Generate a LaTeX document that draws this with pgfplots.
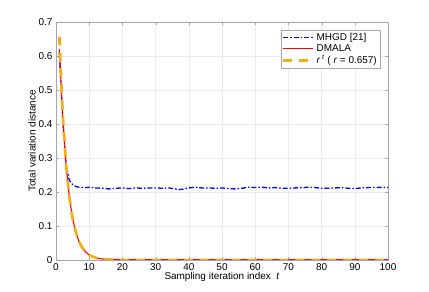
\documentclass[border=0pt]{standalone}
\usepackage{pgfplots}
\pgfplotsset{compat=1.18}
\usepackage{fontspec}
\setmainfont{Liberation Sans}
\definecolor{mblue}{RGB}{0,0,255}
\definecolor{mred}{rgb}{1,0,0}
\definecolor{myellow}{rgb}{0.929,0.694,0.125}
\begin{document}
\begin{tikzpicture}
\path[use as bounding box] (0,0) rectangle (429bp,292bp);
\begin{axis}[
  at={(56bp,32bp)}, anchor=south west,
  scale only axis, width=332bp, height=238bp,
  xmin=0, xmax=100, ymin=0, ymax=0.7,
  xtick={0,10,...,100}, ytick={0,0.1,...,0.7},
  yticklabel style={/pgf/number format/fixed,/pgf/number format/precision=1},
  /pgf/number format/assume math mode=true,
  tick align=inside, tick pos=both,
  major tick length=3bp,
  grid=major,
  major grid style={gray!15, line width=0.4pt},
  axis line style={gray!70, line width=0.6pt},
  tick style={gray!70},
  ticklabel style={font=\fontsize{10}{11}\selectfont},
  label style={font=\fontsize{10}{11}\selectfont},
  xlabel={Sampling iteration index\ \ \textit{t}},
  ylabel={Total variation distance},
  xlabel style={yshift=5bp},
  ylabel style={yshift=-4bp},
  legend style={at={(0.976,0.966)}, anchor=north east, font=\fontsize{10}{11}\selectfont, draw=gray!70, line width=0.5pt, inner sep=1pt, row sep=-1.5pt},
  legend cell align=left,
  legend image code/.code={\draw[#1] (0bp,0bp) -- (30bp,0bp);},
]
\addplot[draw=mblue, line width=1.3pt, dash pattern=on 5pt off 2pt on 1.5pt off 2pt] coordinates {
(1,0.61) (2,0.42) (3,0.28) (4,0.235) (5,0.222) (6,0.216) (7,0.214) (8,0.213) (9,0.213) (10,0.214)
(12,0.212) (14,0.211) (16,0.209) (18,0.211) (20,0.212) (22,0.210) (24,0.212) (26,0.211)
(28,0.212) (30,0.212) (32,0.211) (34,0.212) (36,0.209) (37,0.207) (38,0.208) (40,0.212)
(42,0.214) (44,0.212) (46,0.212) (48,0.211) (50,0.212) (52,0.210) (54,0.209) (56,0.211)
(58,0.214) (60,0.213) (62,0.214) (64,0.212) (66,0.213) (68,0.211) (70,0.211) (72,0.212)
(74,0.213) (76,0.214) (78,0.213) (80,0.211) (82,0.211) (84,0.212) (86,0.213) (88,0.211)
(90,0.210) (92,0.212) (94,0.213) (96,0.213) (98,0.214) (100,0.213)
};
\addlegendentry{MHGD [21]}
\addplot[draw=mred, line width=1.1pt] coordinates {
(1,0.62) (2,0.425) (3,0.283) (4,0.186) (5,0.122) (6,0.080) (7,0.053) (8,0.035) (9,0.023)
(10,0.015) (11,0.010) (12,0.0065) (13,0.0043) (14,0.003) (16,0.0018) (20,0.0012) (30,0.0012)
(40,0.0012) (50,0.0012) (60,0.0012) (70,0.0012) (80,0.0012) (90,0.0012) (100,0.0012)
};
\addlegendentry{DMALA}
\addplot[draw=myellow, line width=2.8pt, dash pattern=on 9pt off 7pt] coordinates {
(1,0.657) (2,0.43165) (3,0.28359) (4,0.18632) (5,0.12241) (6,0.08042) (7,0.05284) (8,0.03471)
(9,0.02281) (10,0.01498) (11,0.00984) (12,0.00647) (13,0.00425) (14,0.00279) (15,0.00183)
(16,0.0012) (18,0.0005) (20,0.0002) (30,0) (40,0) (50,0) (60,0) (70,0) (80,0) (90,0) (100,0)
};
\addlegendentry{\textit{r}\,\textsuperscript{\textit{t}} ( \textit{r} = 0.657)}
\end{axis}
\end{tikzpicture}
\end{document}
